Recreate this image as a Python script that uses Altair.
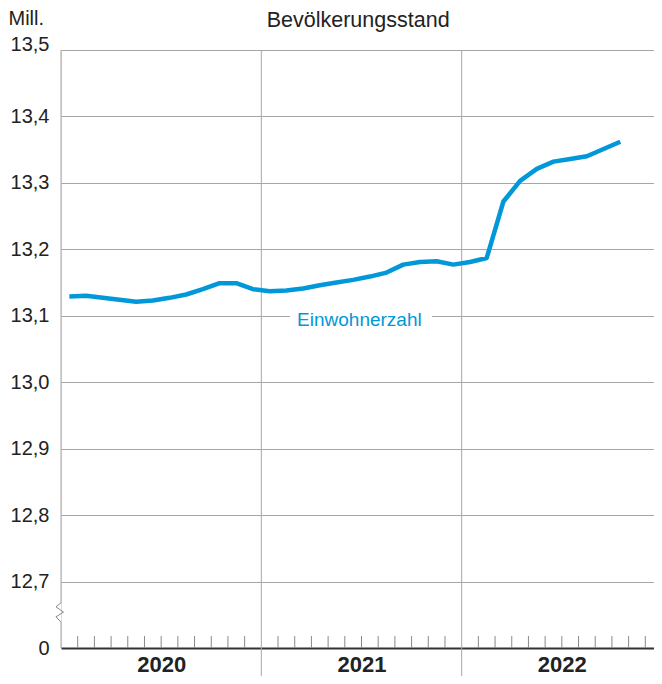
import altair as alt
import pandas as pd

# ---- data ----
years = ["2020", "2021", "2022"]
months = [f"{y}-{m:02d}" for y in years for m in range(1, 13)][:34]
einwohner = [13.129, 13.130, 13.127, 13.124, 13.121, 13.123, 13.127, 13.132, 13.140, 13.149, 13.149, 13.140,
             13.137, 13.138, 13.141, 13.146, 13.150, 13.154, 13.159, 13.165, 13.177, 13.181, 13.182, 13.177,
             13.181, 13.187, 13.272, 13.303, 13.321, 13.332, 13.336, 13.340, 13.351, 13.362]
y_ticks = [12.6, 12.7, 12.8, 12.9, 13.0, 13.1, 13.2, 13.3, 13.4, 13.5]
label_text = "Einwohnerzahl"
title_text = "Bevölkerungsstand"

BLUE = "#0098d8"
GRID = "#a6a6a6"
TXT = "#222222"
FONT = "Liberation Sans"

line_df = pd.DataFrame({"month": months, "idx": [i + 0.5 for i in range(len(months))], "v": einwohner})
year_bounds = pd.DataFrame({"x": [12, 24]})
month_ticks = pd.DataFrame({"x": [m for m in range(1, 36) if m % 12 != 0]})
zig_df = pd.DataFrame({"x": [0, -0.30, 0.15, -0.30, 0.0], "y": [12.668, 12.662, 12.654, 12.647, 12.639], "o": [0, 1, 2, 3, 4]})
yaxis_df = pd.DataFrame({"y": [13.5, 12.639], "y2": [12.668, 12.6]})

xs = alt.Scale(domain=[0, 36], nice=False, zero=False)
ys = alt.Scale(domain=[12.6, 13.5], nice=False, zero=False)

label_expr_x = f"datum.value == 6 ? '{years[0]}' : datum.value == 18 ? '{years[1]}' : '{years[2]}'"

base_line = alt.Chart(line_df).mark_line(color=BLUE, strokeWidth=4.5, strokeJoin="round").encode(
    x=alt.X("idx:Q", scale=xs, axis=alt.Axis(
        values=[6, 18, 30], labelExpr=label_expr_x, ticks=False, grid=False,
        domainColor="#333333", domainWidth=2, labelFontSize=22, labelFontWeight="bold",
        labelBaseline="alphabetic", labelPadding=23, title=None, labelColor=TXT, labelFont=FONT)),
    y=alt.Y("v:Q", scale=ys, axis=alt.Axis(
        values=y_ticks,
        labelExpr="datum.value < 12.65 ? '0' : replace(format(datum.value, '.1f'), '.', ',')",
        grid=True,
        gridColor={"condition": {"test": "datum.value < 12.65", "value": "transparent"}, "value": GRID},
        gridWidth=1,
        domain=False, ticks=False, labelPadding=12, labelFontSize=20, labelColor=TXT, labelFont=FONT,
        labelBaseline={"condition": {"test": "datum.value > 13.45", "value": "alphabetic"}, "value": "middle"},
        title="Mill.", titleAngle=0, titleAlign="left", titleBaseline="alphabetic",
        titleX=-53, titleY=-26, titleFontSize=20, titleFontWeight="normal", titleColor=TXT, titleFont=FONT)),
)

year_rules = alt.Chart(year_bounds).mark_rule(color=GRID, strokeWidth=1).encode(
    x=alt.X("x:Q", scale=xs), y=alt.value(0), y2=alt.value(627))

ticks = alt.Chart(month_ticks).mark_rule(color="#888888", strokeWidth=1).encode(
    x=alt.X("x:Q", scale=xs), y=alt.datum(12.6), y2=alt.datum(12.618))

yaxis = alt.Chart(yaxis_df).mark_rule(color=GRID, strokeWidth=1).encode(
    x=alt.datum(0), y=alt.Y("y:Q", scale=ys), y2="y2:Q")

zig = alt.Chart(zig_df).mark_line(color="#888888", strokeWidth=1).encode(
    x=alt.X("x:Q", scale=xs), y=alt.Y("y:Q", scale=ys), order="o:Q")

bg = alt.Chart(pd.DataFrame({"a": [0]})).mark_rect(color="white").encode(
    x=alt.datum(13.72), x2=alt.datum(22.22), y=alt.datum(13.086), y2=alt.datum(13.104))

lbl = alt.Chart(pd.DataFrame({"t": [label_text]})).mark_text(
    color=BLUE, fontSize=19, font=FONT, align="left", baseline="middle").encode(
    x=alt.datum(14.14), y=alt.datum(13.094), text="t:N")

ttl = alt.Chart(pd.DataFrame({"t": [title_text]})).mark_text(
    color=TXT, fontSize=21.5, font=FONT, align="center", baseline="alphabetic").encode(
    x=alt.datum(17.8), y=alt.value(-23), text="t:N")

chart = alt.layer(year_rules, yaxis, zig, ticks, bg, lbl, base_line, ttl).properties(
    width=601, height=598,
    padding={"left": 53, "top": 42, "right": -8, "bottom": 28},
    autosize="none",
).configure_view(stroke=None).configure(font=FONT)

chart.save("out.html", embed_options={"renderer": "svg", "actions": False})
